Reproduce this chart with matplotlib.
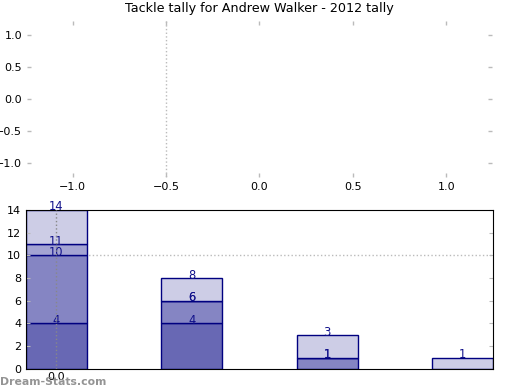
import numpy as np
import matplotlib
matplotlib.use("Agg")
import matplotlib.pyplot as plt

# stacked tallies, bottom layer first
positions = [0, 1, 2, 3]
layer1 = [4, 4, 0, 0]
layer2 = [6, 2, 1, 0]
layer3 = [1, 0, 0, 0]
layer4 = [3, 2, 2, 1]
layers = [layer1, layer2, layer3, layer4]
colors = ['#6868b4', '#8585c3', '#a4a4d3', '#cdcde6']
title = 'Tackle tally for Andrew Walker - 2012 tally'
bar_width = 0.45

fig = plt.figure(figsize=(5.2, 3.9), dpi=100)

# top (empty) axes
ax1 = fig.add_axes([0.052, 0.547, 0.894, 0.4])
ax1.set_xlim(-1.245, 1.245)
ax1.set_ylim(-1.22, 1.22)
for s in ax1.spines.values():
    s.set_visible(False)
ax1.set_xticks([-1.0, -0.5, 0.0, 0.5, 1.0])
ax1.set_yticks([-1.0, -0.5, 0.0, 0.5, 1.0])
ax1.tick_params(axis='both', which='both', color='#bbbbbb', length=3, width=1,
                labelsize=8, top=True, right=True, direction='in')
ax1.axvline(-0.5, color='#bbbbbb', linestyle=':', linewidth=1)
ax1.set_title(title, fontsize=9.2, pad=6)

# bottom stacked bars
ax2 = fig.add_axes([0.05, 0.054, 0.898, 0.408])
bottoms = np.zeros(len(positions))
for vals, c in zip(layers, colors):
    vals = np.array(vals)
    ax2.bar(positions, vals, bar_width, bottom=bottoms, align='edge',
            color=c, edgecolor='#000080', linewidth=1)
    tops = bottoms + vals
    for p, v, t in zip(positions, vals, tops):
        if t > 0:
            ax2.text(p + bar_width / 2, t + 0.25, '%d' % t, ha='center', va='center',
                     fontsize=8.3, color='#10108a')
    bottoms = tops

ax2.set_xlim(0, positions[-1] + bar_width)
ax2.set_ylim(0, 14)
ax2.set_yticks(np.arange(0, 15, 2))
ax2.set_xticks([bar_width / 2])
ax2.set_xticklabels(['0.0'])
ax2.tick_params(axis='y', color='#bbbbbb', length=3, labelsize=8,
                right=True, direction='in')
ax2.tick_params(axis='x', length=0, labelsize=8, pad=2)
ax2.axhline(10, color='#bbbbbb', linestyle=':', linewidth=1, zorder=0.5)
ax2.axvline(bar_width / 2, color='#888888', linestyle=':', linewidth=1, zorder=3)

fig.text(0.0, 0.013, 'Dream-Stats.com', fontsize=7.8, color='#888888',
         fontweight='bold', alpha=0.9)

fig.savefig('out.png', dpi=100)
